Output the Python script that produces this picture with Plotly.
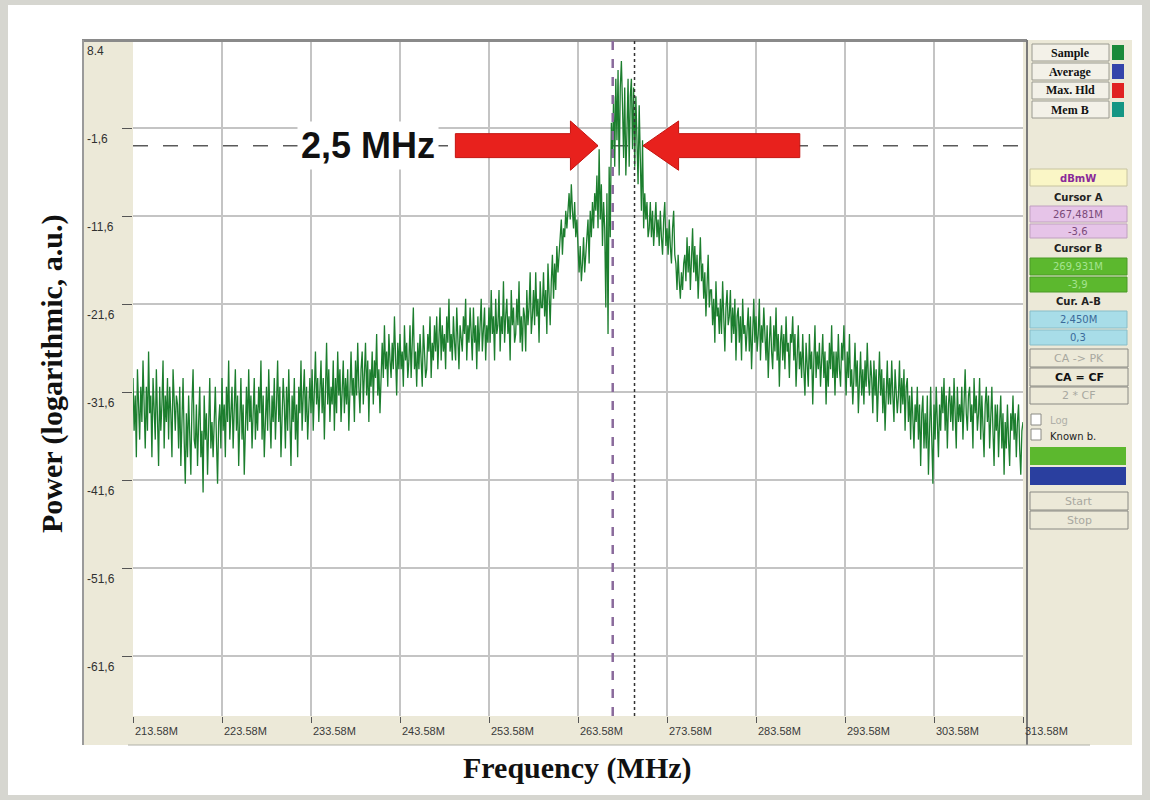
import plotly.graph_objects as go

# ---------------- data ----------------
freq_start_mhz = 213.58
freq_step_mhz = 0.125

power_dbm = [
    -30, -36, -32, -39, -29, -34, -37, -31,  -35, -28, -33, -38, -31, -36, -27, -34,
    -32, -39, -30, -35, -37, -29, -34, -40,  -31, -36, -33, -28, -38, -32, -35, -30,
    -37, -31, -34, -39, -29, -33, -36, -32,  -33, -38, -31, -40, -35, -30, -37, -42,
    -34, -39, -32, -36, -41, -33, -29, -37,  -38, -33, -40, -35, -31, -39, -36, -43,
    -32, -37, -34, -41, -36, -30, -38, -35,  -39, -34, -31, -37, -42, -35, -33, -38,
    -30, -36, -33, -39, -31, -35, -28, -37,  -34, -31, -38, -33, -29, -36, -32, -40,
    -35, -30, -37, -33, -41, -34, -31, -36,  -29, -35, -32, -38, -34, -30, -37, -33,
    -36, -31, -34, -28, -37, -32, -39, -33,  -31, -36, -29, -34, -38, -32, -35, -30,
    -37, -33, -28, -35, -31, -39, -34, -30,  -33, -38, -31, -36, -29, -34, -40, -32,
    -35, -30, -37, -33, -39, -31, -34, -28,  -36, -32, -29, -35, -31, -37, -33, -30,
    -34, -29, -36, -31, -27, -33, -30, -35,  -32, -28, -34, -30, -37, -31, -26, -33,
    -29, -35, -31, -33, -28, -36, -30, -34,  -27, -32, -29, -35, -31, -28, -34, -30,
    -33, -29, -36, -31, -27, -32, -30, -35,  -28, -32, -26, -31, -34, -29, -27, -33,
    -30, -26, -32, -28, -35, -29, -31, -27,  -33, -28, -30, -25, -32, -29, -34, -28,
    -26, -30, -24, -29, -27, -31, -25, -28,  -30, -26, -29, -23, -28, -32, -26, -29,
    -25, -29, -27, -31, -24, -28, -26, -30,  -28, -24, -30, -26, -22, -29, -27, -31,
    -26, -29, -25, -28, -31, -24, -27, -30,  -29, -25, -27, -23, -30, -26, -28, -24,
    -27, -23, -29, -25, -22, -28, -24, -27,  -25, -29, -23, -26, -21, -27, -25, -28,
    -23, -26, -28, -22, -25, -29, -24, -26,  -27, -23, -25, -21, -28, -24, -26, -22,
    -25, -28, -22, -26, -24, -29, -23, -27,  -24, -21, -27, -25, -22, -28, -24, -26,
    -22, -26, -20, -25, -23, -28, -21, -25,  -24, -20, -27, -23, -25, -19, -26, -23,
    -21, -25, -23, -28, -20, -24, -22, -26,  -25, -21, -24, -19, -26, -23, -27, -22,
    -23, -27, -20, -24, -22, -18, -25, -23,  -20, -24, -18, -23, -21, -26, -19, -22,
    -22, -18, -23, -20, -25, -17, -21, -24,  -19, -16, -21, -17, -20, -15, -18, -16,
    -15, -12, -16, -13, -14, -11, -13, -10,  -9, -12, -8, -11, -13, -10, -14, -12,
    -16, -18, -15, -19, -17, -14, -18, -16,  -15, -12, -17, -11, -14, -10, -13, -9,
    -11, -7, -13, -4, -12, -8, -15, -10,  -13, -22, -9, -25, -6, -14, -1, -5,
    2, -6, 4, -3, 5, -7, 3, 6,  1, -5, 3, -7, -2, 4, -6, 2,
    4, -4, 3, -6, 2, -3, -8, 1,  -5, -11, -3, -13, -9, -12, -10, -14,
    -13, -10, -14, -11, -15, -12, -10, -14,  -12, -15, -11, -14, -16, -12, -10, -15,
    -13, -16, -12, -15, -17, -13, -11, -16,  -17, -20, -16, -19, -21, -18, -20, -17,
    -16, -19, -14, -18, -15, -20, -17, -13,  -18, -15, -19, -16, -21, -17, -14, -19,
    -17, -21, -18, -23, -19, -16, -22, -20,  -20, -24, -21, -26, -19, -23, -22, -25,
    -21, -25, -19, -23, -27, -22, -20, -24,  -23, -20, -26, -22, -25, -21, -28, -23,
    -22, -26, -23, -28, -21, -25, -24, -27,  -25, -22, -27, -23, -29, -24, -21, -26,
    -23, -27, -25, -21, -28, -24, -26, -22,  -25, -28, -24, -30, -26, -23, -27, -29,
    -24, -27, -22, -28, -25, -31, -26, -24,  -28, -25, -29, -23, -27, -26, -30, -25,
    -26, -23, -28, -25, -31, -27, -24, -29,  -27, -30, -25, -29, -32, -26, -28, -31,
    -25, -29, -27, -33, -28, -24, -30, -27,  -29, -26, -31, -28, -25, -30, -27, -33,
    -28, -31, -26, -29, -24, -30, -27, -32,  -27, -30, -25, -29, -31, -26, -28, -24,
    -28, -32, -27, -30, -25, -31, -29, -33,  -30, -26, -31, -28, -34, -29, -27, -32,
    -29, -33, -28, -31, -26, -30, -32, -28,  -30, -34, -28, -32, -29, -35, -31, -27,
    -32, -29, -34, -30, -36, -31, -28, -33,  -30, -33, -28, -32, -35, -29, -31, -34,
    -32, -28, -34, -30, -33, -29, -36, -31,  -30, -35, -32, -37, -31, -34, -38, -33,
    -35, -31, -37, -33, -40, -34, -32, -38,  -34, -38, -32, -41, -35, -31, -37, -42,
    -33, -37, -31, -35, -39, -33, -36, -31,  -34, -30, -36, -32, -38, -33, -31, -35,
    -32, -36, -30, -34, -38, -31, -35, -33,  -35, -31, -37, -33, -29, -34, -36, -32,
    -31, -35, -33, -38, -30, -34, -32, -36,  -34, -30, -37, -32, -35, -39, -33, -31,
    -35, -32, -38, -34, -31, -36, -40, -33,  -36, -33, -39, -35, -32, -38, -34, -41,
    -35, -38, -33, -37, -40, -34, -36, -32,  -37, -34, -39, -35, -33, -38, -41, -36,
    -35,
]
freq_mhz = [round(freq_start_mhz + i * freq_step_mhz, 4) for i in range(len(power_dbm))]

x_tick_vals = [213.58, 223.58, 233.58, 243.58, 253.58, 263.58, 273.58, 283.58, 293.58, 303.58, 313.58]
x_tick_text = ["213.58M", "223.58M", "233.58M", "243.58M", "253.58M", "263.58M",
               "273.58M", "283.58M", "293.58M", "303.58M", "313.58M"]
y_tick_vals = [8.4, -1.6, -11.6, -21.6, -31.6, -41.6, -51.6, -61.6]
y_tick_text = ["8.4", "-1,6", "-11,6", "-21,6", "-31,6", "-41,6", "-51,6", "-61,6"]

cursor_a_mhz = 267.481
cursor_b_mhz = 269.931
cursor_a_level = -3.6
width_label = "2,5 MHz"

legend_names = ["Sample", "Average", "Max. Hld", "Mem B"]
legend_colors = ["#1a8a3a", "#3444aa", "#e02222", "#159684"]

# ---------------- layout helpers ----------------
W, H = 1150, 800
PL, PR, PT, PB = 133, 1023, 40, 716


def px(x):
    return (x - PL) / (PR - PL)


def py(y):
    return (PB - y) / (PB - PT)


shapes = []
annotations = []


def rect(x0, y0, x1, y1, fill, line_color=None, lw=0, layer="above"):
    shapes.append(dict(type="rect", xref="paper", yref="paper",
                       x0=px(x0), x1=px(x1), y0=py(y1), y1=py(y0),
                       fillcolor=fill, layer=layer,
                       line=dict(color=line_color or fill, width=lw)))


def hline_px(x0, x1, y, color, w, layer="above"):
    shapes.append(dict(type="line", xref="paper", yref="paper",
                       x0=px(x0), x1=px(x1), y0=py(y), y1=py(y),
                       line=dict(color=color, width=w), layer=layer))


def vline_px(x, y0, y1, color, w, layer="above"):
    shapes.append(dict(type="line", xref="paper", yref="paper",
                       x0=px(x), x1=px(x), y0=py(y0), y1=py(y1),
                       line=dict(color=color, width=w), layer=layer))


def text_px(x, y, txt, size=11, color="#222", bold=False, xanchor="center",
            family="DejaVu Sans"):
    annotations.append(dict(xref="paper", yref="paper", x=px(x), y=py(y),
                            text=f"<b>{txt}</b>" if bold else txt,
                            showarrow=False, xanchor=xanchor, yanchor="middle",
                            font=dict(size=size, color=color, family=family)))


# frame / window
rect(8, 5, 1142, 795, "#ffffff", layer="below")
rect(82, 40, 133, 745, "#ece9d8", layer="below")
rect(128, 716, 1090, 745, "#ece9d8", layer="below")
rect(1023, 40, 1132, 745, "#ece9d8", layer="below")
hline_px(82, 1027, 40.5, "#8a8a8a", 3)
vline_px(83, 40, 745, "#9a9a9a", 2)
vline_px(1027, 40, 745, "#7a7a7a", 2)
hline_px(128, 1090, 745, "#b0b0a8", 1)

# right panel: legend rows
row_y = [(44, 61), (63, 80), (82, 99), (101, 118)]
for (y0, y1), name, col in zip(row_y, legend_names, legend_colors):
    rect(1032, y0, 1109, y1, "#f3f1e8", "#9a9a90", 1)
    rect(1112, y0 + 1, 1124, y1 - 1, col)
    text_px(1070, (y0 + y1) / 2, name, 12, "#111", True, family="Liberation Serif")

# cursor info boxes
rect(1030, 169, 1127, 186, "#faf6c6", "#c8c4a0", 1)
text_px(1078, 178, "dBmW", 10, "#8a2a9a", True)
text_px(1078, 197, "Cursor A", 10, "#222", True)
rect(1030, 206, 1127, 222, "#e6c4e8", "#c0a0c0", 1)
rect(1030, 224, 1127, 238, "#e6c4e8", "#c0a0c0", 1)
text_px(1078, 214, "267,481M", 10, "#7a4a7a")
text_px(1078, 231, "-3,6", 10, "#7a4a7a")
text_px(1078, 249, "Cursor B", 10, "#222", True)
rect(1030, 258, 1127, 275, "#5cb82e", "#4a9a26", 1)
rect(1030, 277, 1127, 292, "#5cb82e", "#4a9a26", 1)
text_px(1078, 266, "269,931M", 10, "#a4e490")
text_px(1078, 284, "-3,9", 10, "#a4e490")
text_px(1078, 301, "Cur. A-B", 10, "#222", True)
rect(1030, 311, 1127, 328, "#a8dde8", "#88bdc8", 1)
rect(1030, 330, 1127, 345, "#a8dde8", "#88bdc8", 1)
text_px(1078, 319, "2,450M", 10, "#3a6a9a")
text_px(1078, 337, "0,3", 10, "#3a6a9a")

# buttons
for (y0, y1), label, col, b in [((349, 367), "CA -> PK", "#a8a8a0", False),
                                ((368, 386), "CA = CF", "#111", True),
                                ((387, 404), "2 * CF", "#a8a8a0", False),
                                ((492, 510), "Start", "#a8a8a0", False),
                                ((511, 529), "Stop", "#a8a8a0", False)]:
    rect(1030, y0, 1128, y1, "#ece9d8", "#8a8a84", 1)
    text_px(1079, (y0 + y1) / 2, label, 11, col, b)

# checkboxes
rect(1031, 414, 1041, 425, "#ffffff", "#8a8a84", 1)
text_px(1048, 420, "Log", 10, "#b0b0a8", xanchor="left")
rect(1031, 429, 1041, 440, "#ffffff", "#8a8a84", 1)
text_px(1048, 436, "Known b.", 10, "#222", xanchor="left")

# colour bars
rect(1030, 447, 1126, 465, "#5cb82e")
rect(1030, 467, 1126, 485, "#2a3f9f")

# y tick labels (placed below each tick, in the left panel)
for v, t in zip(y_tick_vals, y_tick_text):
    annotations.append(dict(xref="paper", yref="y", x=px(85), y=v, yshift=-11,
                            text=t, showarrow=False, xanchor="left", yanchor="middle",
                            font=dict(size=12, color="#303030", family="Liberation Sans")))
# x tick labels (to the right of each tick, in the bottom strip)
for v, t in zip(x_tick_vals, x_tick_text):
    annotations.append(dict(xref="x", yref="paper", x=v, y=py(731), xshift=0,
                            text=t, showarrow=False, xanchor="left", yanchor="middle",
                            font=dict(size=11, color="#3a3a3a", family="Liberation Sans")))

# axis titles
annotations.append(dict(xref="paper", yref="paper", x=px(52), y=py(374),
                        text="<b>Power (logarithmic, a.u.)</b>", textangle=-90,
                        showarrow=False, xanchor="center", yanchor="middle",
                        font=dict(size=30, color="#111", family="Liberation Serif")))
annotations.append(dict(xref="paper", yref="paper", x=px(577), y=py(768),
                        text="<b>Frequency (MHz)</b>",
                        showarrow=False, xanchor="center", yanchor="middle",
                        font=dict(size=30, color="#111", family="Liberation Serif")))

# cursor lines
shapes.append(dict(type="line", xref="x", yref="y", x0=freq_mhz[0], x1=freq_mhz[-1],
                   y0=cursor_a_level, y1=cursor_a_level, layer="between",
                   line=dict(color="#5a5a5a", width=1.5, dash="longdash")))
shapes.append(dict(type="line", xref="x", yref="paper", x0=cursor_a_mhz, x1=cursor_a_mhz,
                   y0=0, y1=1, layer="above",
                   line=dict(color="#8a6a9c", width=2.5, dash="dash")))
shapes.append(dict(type="line", xref="x", yref="paper", x0=cursor_b_mhz, x1=cursor_b_mhz,
                   y0=0, y1=1, layer="above",
                   line=dict(color="#333333", width=1.5, dash="dot")))

# red arrows pointing at the two cursors
sh, hh = 1.36, 2.8


def arrow_path(tail, base, tip, y0):
    return (f"M {tail},{y0 + sh} L {base},{y0 + sh} L {base},{y0 + hh} L {tip},{y0} "
            f"L {base},{y0 - hh} L {base},{y0 - sh} L {tail},{y0 - sh} Z")


la_tip = cursor_a_mhz - 1.65
ra_tip = cursor_b_mhz + 0.95
shapes.append(dict(type="path", xref="x", yref="y", layer="above",
                   path=arrow_path(249.8, la_tip - 3.1, la_tip, cursor_a_level),
                   fillcolor="#e8211d", line=dict(color="#c41410", width=1)))
shapes.append(dict(type="path", xref="x", yref="y", layer="above",
                   path=arrow_path(288.5, ra_tip + 4.0, ra_tip, cursor_a_level),
                   fillcolor="#e8211d", line=dict(color="#c41410", width=1)))

annotations.append(dict(xref="x", yref="y", x=240.0, y=cursor_a_level,
                        text=f"<b>{width_label}</b>", showarrow=False,
                        xanchor="center", yanchor="middle", bgcolor="#ffffff", borderpad=3,
                        font=dict(size=36, color="#111", family="Liberation Sans")))

# ---------------- figure ----------------
fig = go.Figure()
fig.add_trace(go.Scatter(x=freq_mhz, y=power_dbm, mode="lines",
                         line=dict(color="#1c7e2e", width=1.3), hoverinfo="skip"))

fig.update_layout(
    width=W, height=H,
    margin=dict(l=PL, r=W - PR, t=PT, b=H - PB, pad=0),
    paper_bgcolor="#d6d6d0", plot_bgcolor="#ffffff",
    showlegend=False,
    shapes=shapes, annotations=annotations,
    xaxis=dict(range=[x_tick_vals[0], x_tick_vals[-1]], tickvals=x_tick_vals,
               showticklabels=False, ticks="outside", ticklen=6, tickcolor="#555",
               showgrid=True, gridcolor="#c4c4c4", gridwidth=1.5,
               zeroline=False, showline=False, fixedrange=True),
    yaxis=dict(range=[-68.4, 8.4], tickvals=y_tick_vals,
               showticklabels=False, ticks="outside", ticklen=10, tickcolor="#555",
               showgrid=True, gridcolor="#c4c4c4", gridwidth=1.5,
               zeroline=False, showline=False, fixedrange=True),
)

fig.write_html("out.html", config={"displayModeBar": False},
               post_script="document.body.style.margin='0';document.body.style.background='#d6d6d0';")
